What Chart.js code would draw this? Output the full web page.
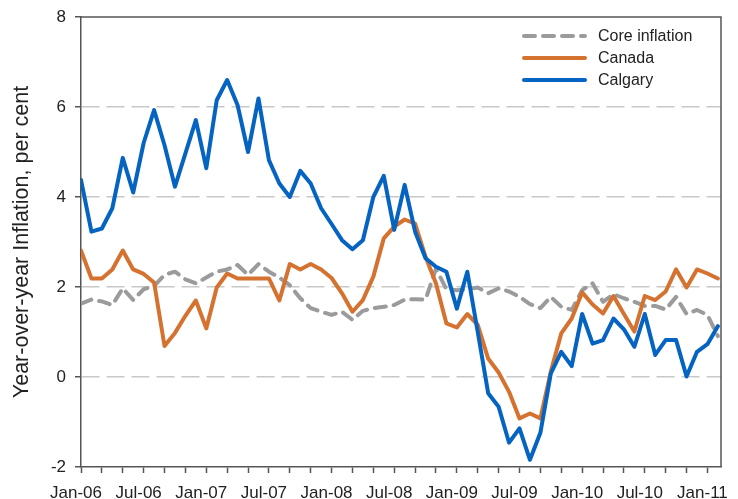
<!DOCTYPE html>
<html>
<head>
<meta charset="utf-8">
<script src="https://cdn.jsdelivr.net/npm/chart.js@4/dist/chart.umd.min.js"></script>
<style>
  html, body { margin: 0; padding: 0; background: #ffffff; }
  #wrap { width: 738px; height: 499px; }
</style>
</head>
<body>
<div id="wrap"><canvas id="c" width="738" height="499"></canvas></div>
<script>
// ---- data ----
const months = [
  'Jan-06','Feb-06','Mar-06','Apr-06','May-06','Jun-06','Jul-06','Aug-06','Sep-06','Oct-06','Nov-06','Dec-06',
  'Jan-07','Feb-07','Mar-07','Apr-07','May-07','Jun-07','Jul-07','Aug-07','Sep-07','Oct-07','Nov-07','Dec-07',
  'Jan-08','Feb-08','Mar-08','Apr-08','May-08','Jun-08','Jul-08','Aug-08','Sep-08','Oct-08','Nov-08','Dec-08',
  'Jan-09','Feb-09','Mar-09','Apr-09','May-09','Jun-09','Jul-09','Aug-09','Sep-09','Oct-09','Nov-09','Dec-09',
  'Jan-10','Feb-10','Mar-10','Apr-10','May-10','Jun-10','Jul-10','Aug-10','Sep-10','Oct-10','Nov-10','Dec-10',
  'Jan-11','Feb-11'
];
const tickLabels = ['Jan-06','Jul-06','Jan-07','Jul-07','Jan-08','Jul-08','Jan-09','Jul-09','Jan-10','Jul-10','Jan-11'];
const seriesNames = ['Core inflation', 'Canada', 'Calgary'];

const coreInflation = [
  1.63, 1.72, 1.68, 1.60, 1.97, 1.71, 1.95, 2.02, 2.27, 2.34, 2.17, 2.08,
  2.21, 2.34, 2.39, 2.49, 2.27, 2.51, 2.34, 2.21, 2.04, 1.75, 1.53, 1.45,
  1.38, 1.45, 1.27, 1.47, 1.53, 1.56, 1.60, 1.72, 1.73, 1.72, 2.41, 1.95,
  1.93, 1.95, 1.99, 1.86, 1.97, 1.90, 1.78, 1.62, 1.53, 1.78, 1.56, 1.49,
  1.93, 2.08, 1.67, 1.84, 1.75, 1.67, 1.58, 1.58, 1.50, 1.78, 1.40, 1.49,
  1.38, 0.91
];
const canada = [
  2.81, 2.19, 2.19, 2.39, 2.81, 2.39, 2.29, 2.10, 0.69, 0.98, 1.36, 1.70,
  1.08, 1.99, 2.30, 2.19, 2.19, 2.19, 2.19, 1.70, 2.51, 2.39, 2.51, 2.39,
  2.20, 1.86, 1.45, 1.71, 2.23, 3.08, 3.34, 3.50, 3.41, 2.67, 2.08, 1.19,
  1.10, 1.40, 1.16, 0.41, 0.10, -0.33, -0.92, -0.81, -0.92, 0.12, 0.97, 1.30,
  1.88, 1.61, 1.41, 1.80, 1.40, 1.01, 1.80, 1.71, 1.90, 2.39, 1.99, 2.39,
  2.30, 2.19
];
const calgary = [
  4.38, 3.23, 3.30, 3.75, 4.87, 4.10, 5.20, 5.93, 5.15, 4.23, 4.97, 5.71,
  4.64, 6.15, 6.60, 6.04, 5.00, 6.19, 4.82, 4.30, 4.00, 4.58, 4.30, 3.75,
  3.40, 3.04, 2.84, 3.04, 4.00, 4.47, 3.27, 4.27, 3.23, 2.64, 2.45, 2.34,
  1.52, 2.34, 1.00, -0.36, -0.66, -1.46, -1.14, -1.84, -1.24, 0.08, 0.56, 0.24,
  1.40, 0.74, 0.82, 1.30, 1.06, 0.67, 1.40, 0.49, 0.82, 0.82, 0.01, 0.56,
  0.73, 1.13
];
const yTitle = 'Year-over-year Inflation, per cent';

// ---- build ----
const toPoints = arr => arr.map((v, i) => ({ x: i, y: v }));
const FONT = '"Liberation Sans", Arial, Helvetica, sans-serif';
const TEXT = '#222222';
const AXIS = '#555555';

const framePlugin = {
  id: 'frame',
  beforeDatasetsDraw(chart) {
    const { ctx, chartArea: a } = chart;
    ctx.save();
    ctx.strokeStyle = AXIS;
    ctx.lineWidth = 1.5;
    ctx.beginPath();
    ctx.moveTo(a.left, a.top);
    ctx.lineTo(a.right, a.top);
    ctx.lineTo(a.right, a.bottom);
    ctx.stroke();
    ctx.restore();
  }
};

const legendPlugin = {
  id: 'insideLegend',
  afterDraw(chart) {
    const { ctx, chartArea: a } = chart;
    ctx.save();
    const x0 = a.right - 197, x1 = a.right - 136, tx = a.right - 123;
    chart.data.datasets.forEach((ds, i) => {
      const y = a.top + 19 + i * 22;
      ctx.strokeStyle = ds.borderColor;
      ctx.lineWidth = ds.borderWidth;
      ctx.lineCap = 'round';
      ctx.setLineDash(ds.borderDash || []);
      ctx.beginPath();
      ctx.moveTo(x0, y);
      ctx.lineTo(x1, y);
      ctx.stroke();
      ctx.setLineDash([]);
      ctx.fillStyle = TEXT;
      ctx.font = '16px ' + FONT;
      ctx.textBaseline = 'middle';
      ctx.textAlign = 'left';
      ctx.fillText(ds.label, tx, y + 1);
    });
    ctx.restore();
  }
};

new Chart(document.getElementById('c'), {
  type: 'line',
  data: {
    datasets: [
      { label: seriesNames[0], data: toPoints(coreInflation), borderColor: '#9b9b9d', borderWidth: 4,
        borderDash: [11, 8], borderCapStyle: 'round', borderJoinStyle: 'round', pointRadius: 0, tension: 0, order: 3 },
      { label: seriesNames[1], data: toPoints(canada), borderColor: '#d57230', borderWidth: 4,
        borderCapStyle: 'round', borderJoinStyle: 'round', pointRadius: 0, tension: 0, order: 2 },
      { label: seriesNames[2], data: toPoints(calgary), borderColor: '#0563c1', borderWidth: 4,
        borderCapStyle: 'round', borderJoinStyle: 'round', pointRadius: 0, tension: 0, order: 1 }
    ]
  },
  options: {
    responsive: false,
    animation: false,
    devicePixelRatio: 1,
    layout: { padding: { left: 0, top: 17, right: 17, bottom: 0 } },
    plugins: { legend: { display: false }, tooltip: { enabled: false } },
    scales: {
      x: {
        type: 'linear',
        min: 0,
        max: 61.3,
        afterBuildTicks(scale) {
          const t = [];
          for (let i = 0; i < months.length; i += 2) t.push({ value: i });
          scale.ticks = t;
        },
        afterFit(scale) {
          scale.height = 32;
          scale.paddingLeft = 0;
          scale.paddingRight = 0;
        },
        ticks: {
          autoSkip: false,
          maxRotation: 0,
          padding: 10,
          labelOffset: -5,
          color: TEXT,
          font: { family: FONT, size: 17 },
          callback(v) {
            const m = months[v];
            return tickLabels.includes(m) ? m : '';
          }
        },
        grid: { drawOnChartArea: false, drawTicks: true, tickLength: 6, tickColor: AXIS, tickWidth: 1.5 },
        border: { display: true, color: AXIS, width: 1.5 }
      },
      y: {
        min: -2,
        max: 8,
        afterFit(scale) {
          scale.width = 81;
          scale.paddingTop = 0;
          scale.paddingBottom = 0;
        },
        ticks: {
          stepSize: 2,
          padding: 9,
          color: TEXT,
          font: { family: FONT, size: 17 }
        },
        grid: {
          drawTicks: true,
          tickLength: 6,
          tickColor: AXIS,
          tickWidth: 1.5,
          lineWidth: 1.5,
          color: ctx => (ctx.tick && (ctx.tick.value === 8 || ctx.tick.value === -2)) ? 'rgba(0,0,0,0)' : '#c8c8c8'
        },
        border: { display: true, color: AXIS, width: 1.5, dash: [18, 7] },
        title: {
          display: true,
          text: yTitle,
          color: TEXT,
          font: { family: FONT, size: 21.5 },
          padding: { top: 9, bottom: 0 }
        }
      }
    }
  },
  plugins: [framePlugin, legendPlugin]
});
</script>
</body>
</html>
